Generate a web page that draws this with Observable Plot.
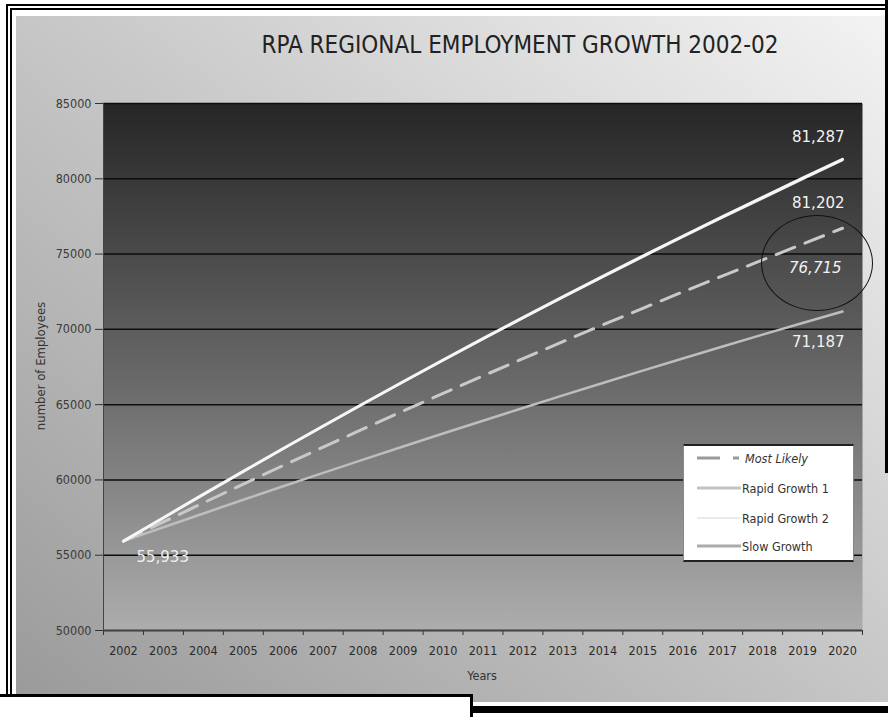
<!DOCTYPE html>
<html>
<head>
<meta charset="utf-8">
<script src="https://cdn.jsdelivr.net/npm/d3@7"></script>
<script src="https://cdn.jsdelivr.net/npm/@observablehq/plot@0.6"></script>
<style>
  html, body { margin: 0; padding: 0; background: #fff; }
  #wrap { position: relative; width: 888px; height: 717px; overflow: hidden; background: #fff;
          font-family: "DejaVu Sans Condensed", "Liberation Sans Narrow", "DejaVu Sans", sans-serif; }
  .abs { position: absolute; }
  #bg { left: 16px; top: 16px; width: 872px; height: 686px;
        background: linear-gradient(to top right, #9a9a9a 0%, #c6c6c6 50%, #f3f3f3 100%); }
  .blk { position: absolute; background: #000; }
  #title { left: 0; width: 1040px; top: 31px; text-align: center; font-size: 24px; color: #222; white-space: nowrap; }
  #ytitle { left: 40px; top: 366px; transform: translate(-50%, -50%) rotate(-90deg); font-size: 13px; color: #333; white-space: nowrap; }
  #xtitle { left: 482px; top: 675px; transform: translate(-50%, -50%); font-size: 12.5px; color: #333; }
  #ellipse { left: 761px; top: 215px; width: 110px; height: 94px; border: 1.5px solid #111; border-radius: 50%; }
  #legend { left: 683px; top: 444px; width: 169px; height: 114px; background: #fff;
            border-top: 2px solid #222; border-bottom: 2px solid #222; border-left: 1px solid #888; border-right: 1px solid #888; }
  .lt { position: absolute; font-size: 12.5px; color: #333; white-space: nowrap; transform: translateY(-50%); }
  #plotholder { position: absolute; left: 0; top: 0; }
</style>
</head>
<body>
<div id="wrap">
  <div id="bg" class="abs"></div>
  <!-- frame lines -->
  <div class="blk" style="left:6px; top:4px; width:882px; height:2px;"></div>
  <div class="blk" style="left:10px; top:8px; width:878px; height:2px;"></div>
  <div class="blk" style="left:6px; top:4px; width:2px; height:690px;"></div>
  <div class="blk" style="left:10px; top:8px; width:2px; height:686px;"></div>
  <div class="blk" style="left:885px; top:0px; width:3px; height:473px;"></div>
  <div class="abs" style="left:0; top:694px; width:470px; height:23px; background:#fff; border-top:3px solid #000; border-right:3px solid #000;"></div>
  <div class="abs" style="left:473px; top:702px; width:415px; height:4px; background:#fff;"></div>
  <div class="blk" style="left:473px; top:706px; width:415px; height:7px;"></div>

  <div id="title" class="abs">RPA REGIONAL EMPLOYMENT GROWTH 2002-02</div>
  <div id="ytitle" class="abs">number of Employees</div>
  <div id="xtitle" class="abs">Years</div>
  <div id="plotholder"></div>
  <div id="ellipse" class="abs"></div>
  <div id="legend" class="abs">
    <svg width="169" height="114" style="position:absolute;left:0;top:0">
      <line x1="13" x2="55" y1="12" y2="12" stroke="#9a9a9a" stroke-width="3" stroke-dasharray="23,13"></line>
      <line x1="13" x2="57" y1="42" y2="42" stroke="#c4c4c4" stroke-width="3"></line>
      <line x1="13" x2="57" y1="72" y2="72" stroke="#e4e4e4" stroke-width="1.5"></line>
      <line x1="13" x2="57" y1="100" y2="100" stroke="#ababab" stroke-width="3"></line>
    </svg>
    <div class="lt" style="left:61px; top:12px; font-style:italic;">Most Likely</div>
    <div class="lt" style="left:58px; top:42px;">Rapid Growth 1</div>
    <div class="lt" style="left:58px; top:72px;">Rapid Growth 2</div>
    <div class="lt" style="left:58px; top:100px;">Slow Growth</div>
  </div>
</div>
<script>
// ---- data ----
const years = [2002, 2003, 2004, 2005, 2006, 2007, 2008, 2009, 2010, 2011, 2012, 2013, 2014, 2015, 2016, 2017, 2018, 2019, 2020];
const rapidGrowth1 = [55933, 57493, 59038, 60568, 62083, 63583, 65063, 66523, 67963, 69383, 70783, 72163, 73523, 74863, 76183, 77483, 78768, 80038, 81287];
const rapidGrowth2 = [55933, 57480, 59020, 60545, 62055, 63550, 65025, 66480, 67915, 69330, 70725, 72100, 73455, 74790, 76105, 77400, 78675, 79945, 81202];
const mostLikely   = [55933, 57210, 58475, 59725, 60960, 62180, 63385, 64575, 65750, 66910, 68055, 69185, 70300, 71400, 72485, 73555, 74610, 75665, 76715];
const slowGrowth   = [55933, 56858, 57774, 58681, 59579, 60468, 61348, 62219, 63081, 63934, 64778, 65613, 66439, 67256, 68064, 68863, 69653, 70420, 71187];
const yTicks = [50000, 55000, 60000, 65000, 70000, 75000, 80000, 85000];
const yDomain = [50000, 85000];

const fmt = d3.format(",");
const toRows = (vals) => years.map((y, i) => ({year: y, value: vals[i]}));
const last = years.length - 1;
const boundaries = years.map(y => y - 0.5).concat([years[last] + 0.5]);

const endLabels = [
  {year: years[last], value: rapidGrowth1[last], dy: -22, dx: 2, italic: false},
  {year: years[last], value: rapidGrowth2[last], dy: 43, dx: 2, italic: false},
  {year: years[last], value: mostLikely[last], dy: 40, dx: -1, italic: true},
  {year: years[last], value: slowGrowth[last], dy: 31, dx: 2, italic: false}
];

const defs = () => {
  const d = d3.create("svg:defs");
  const g = d.append("linearGradient").attr("id", "plotGrad").attr("x1", 0).attr("y1", 0).attr("x2", 0).attr("y2", 1);
  g.append("stop").attr("offset", "0%").attr("stop-color", "#262626");
  g.append("stop").attr("offset", "55%").attr("stop-color", "#6c6c6c");
  g.append("stop").attr("offset", "100%").attr("stop-color", "#adadad");
  return d.node();
};

const font = "DejaVu Sans Condensed, Liberation Sans Narrow, DejaVu Sans, sans-serif";

const endMarks = endLabels.map(l => Plot.text([l], {x: "year", y: "value", text: d => fmt(d.value), dx: l.dx, dy: l.dy,
  textAnchor: "end", fill: "#f2f2f2", fontSize: 15, fontStyle: l.italic ? "italic" : "normal", fontFamily: "DejaVu Sans, sans-serif"}));

const chart = Plot.plot({
  width: 888,
  height: 717,
  marginLeft: 103,
  marginRight: 26,
  marginTop: 103,
  marginBottom: 87,
  style: {background: "transparent", fontFamily: font, color: "#333", overflow: "visible"},
  x: {type: "linear", domain: [years[0] - 0.5, years[last] + 0.5]},
  y: {type: "linear", domain: yDomain},
  marks: [
    defs,
    Plot.frame({fill: "url(#plotGrad)", stroke: null}),
    Plot.gridY(yTicks, {stroke: "#0d0d0d", strokeOpacity: 1, strokeWidth: 1.5}),
    Plot.axisY(yTicks, {tickSize: 8, tickPadding: 4, tickFormat: d => String(d), fontSize: 12.5, fill: "#3a3a3a", stroke: "#333", label: null}),
    Plot.axisX(years, {tickSize: 0, tickPadding: 16, tickFormat: d => String(d), fontSize: 12.5, fill: "#2a2a2a", label: null}),
    Plot.axisX(boundaries, {tickSize: 5, tickFormat: () => "", stroke: "#333", label: null}),
    Plot.ruleY([yDomain[0]], {stroke: "#444", strokeWidth: 1.5}),
    Plot.ruleX([years[0] - 0.5], {stroke: "#444", strokeWidth: 1}),
    Plot.line(toRows(slowGrowth), {x: "year", y: "value", stroke: "#bdbdbd", strokeWidth: 2.5}),
    Plot.line(toRows(mostLikely), {x: "year", y: "value", stroke: "#c9c9c9", strokeWidth: 3, strokeDasharray: "20,11"}),
    Plot.line(toRows(rapidGrowth2), {x: "year", y: "value", stroke: "#dcdcdc", strokeWidth: 1.5}),
    Plot.line(toRows(rapidGrowth1), {x: "year", y: "value", stroke: "#f6f6f6", strokeWidth: 3}),
    ...endMarks,
    Plot.text([{year: years[0], value: rapidGrowth1[0]}], {x: "year", y: "value", text: d => fmt(d.value), textAnchor: "start", dx: 13, dy: 16, fill: "#f0f0f0", fontSize: 15, fontFamily: "DejaVu Sans, sans-serif"})
  ]
});

document.getElementById("plotholder").appendChild(chart);
</script>
</body>
</html>
